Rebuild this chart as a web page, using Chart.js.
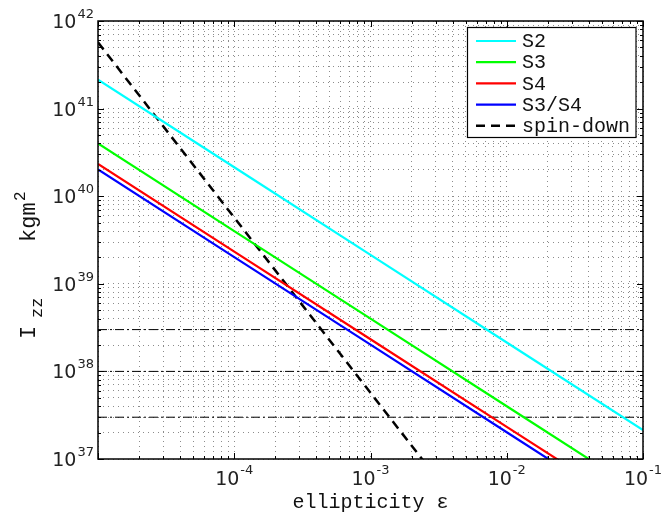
<!DOCTYPE html>
<html>
<head>
<meta charset="utf-8">
<script src="https://cdn.jsdelivr.net/npm/chart.js@4.4.1/dist/chart.umd.min.js"></script>
<style>
  html, body { margin: 0; padding: 0; background: #fff; }
  #wrap { width: 662px; height: 513px; }
</style>
</head>
<body>
<div id="wrap"><canvas id="izzChart"></canvas></div>
<script>
// ellipticity values the curves are sampled at
const epsilon = [1e-5, 1e-4, 1e-3, 1e-2, 1e-1];

// I_zz upper limits for each run
const s2Izz = [2.14e41, 2.14e40, 2.14e39, 2.14e38, 2.14e37];
const s3Izz = [4.0e40, 4.0e39, 4.0e38, 4.0e37, 4.0e36];
const s4Izz = [2.33e40, 2.33e39, 2.33e38, 2.33e37, 2.33e36];
const s3s4Izz = [2.02e40, 2.02e39, 2.02e38, 2.02e37, 2.02e36];
const spinDownIzz = [5.7e41, 5.7e39, 5.7e37, 5.7e35, 5.7e33];

// reference moments of inertia (dash-dot)
const refIzz = [3e38, 1e38, 3e37];

const xRange = [1e-5, 1e-1];
const yRange = [1e37, 1e42];
const xTickExps = [-4, -3, -2, -1];
const yTickExps = [37, 38, 39, 40, 41, 42];

const monoFont = '"Liberation Mono", "DejaVu Sans Mono", monospace';
const sansFont = '"DejaVu Sans", sans-serif';

function pairs(ys) {
    return epsilon.map((x, i) => ({ x: x, y: ys[i] }));
}

function curve(label, ys, color, dash) {
    return {
        label: label,
        data: pairs(ys),
        borderColor: color,
        backgroundColor: color,
        borderWidth: dash ? 2.5 : 2.2,
        borderDash: dash || [],
        pointRadius: 0,
        fill: false,
        tension: 0
    };
}

const datasets = [
    curve('S2', s2Izz, '#00ffff'),
    curve('S3', s3Izz, '#00ff00'),
    curve('S4', s4Izz, '#ff0000'),
    curve('S3/S4', s3s4Izz, '#0000ff'),
    curve('spin-down', spinDownIzz, '#000000', [9, 6])
];

refIzz.forEach(level => {
    datasets.push({
        label: '',
        inLegend: false,
        data: [{ x: xRange[0], y: level }, { x: xRange[1], y: level }],
        borderColor: '#000',
        borderWidth: 1,
        borderDash: [9, 3, 2, 3],
        pointRadius: 0,
        fill: false
    });
});

// 1..9 x 10^n ticks so every decade gets its minor grid
function logTicks(scale) {
    const min = scale.min, max = scale.max;
    const ticks = [];
    for (let e = Math.floor(Math.log10(min)); e <= Math.ceil(Math.log10(max)); e++) {
        for (let m = 1; m <= 9; m++) {
            const v = m * Math.pow(10, e);
            if (v >= min * 0.999999 && v <= max * 1.000001) ticks.push({ value: v, major: m === 1 });
        }
    }
    scale.ticks = ticks;
}

function isDecade(v) {
    const l = Math.log10(v);
    return Math.abs(l - Math.round(l)) < 1e-6;
}

const frame = {
    id: 'frame',
    afterDraw(chart) {
        const ctx = chart.ctx;
        const a = chart.chartArea;
        const xs = chart.scales.x, ys = chart.scales.y;
        ctx.save();

        // inward tick marks on all four sides
        ctx.strokeStyle = '#000';
        ctx.lineWidth = 1;
        ctx.beginPath();
        ys.ticks.forEach(t => {
            const py = Math.round(ys.getPixelForValue(t.value)) + 0.5;
            const len = isDecade(t.value) ? 6 : 3;
            ctx.moveTo(a.left, py); ctx.lineTo(a.left + len, py);
            ctx.moveTo(a.right, py); ctx.lineTo(a.right - len, py);
        });
        xs.ticks.forEach(t => {
            const px = Math.round(xs.getPixelForValue(t.value)) + 0.5;
            const len = isDecade(t.value) ? 6 : 3;
            ctx.moveTo(px, a.bottom); ctx.lineTo(px, a.bottom - len);
            ctx.moveTo(px, a.top); ctx.lineTo(px, a.top + len);
        });
        ctx.stroke();

        // axes box
        ctx.lineWidth = 1.5;
        ctx.strokeRect(a.left, a.top, a.right - a.left, a.bottom - a.top);

        // y tick labels 10^n
        ctx.fillStyle = '#222';
        ctx.textBaseline = 'alphabetic';
        ctx.textAlign = 'left';
        yTickExps.forEach(e => {
            const py = ys.getPixelForValue(Math.pow(10, e));
            const es = String(e);
            ctx.font = '13px ' + sansFont;
            const ew = ctx.measureText(es).width;
            const ex = a.left - 4 - ew;
            ctx.fillText(es, ex, py - 3);
            ctx.font = '19px ' + sansFont;
            const bw = ctx.measureText('10').width;
            ctx.fillText('10', ex - 1 - bw, py + 7);
        });

        // x tick labels 10^n
        xTickExps.forEach(e => {
            const px = xs.getPixelForValue(Math.pow(10, e));
            const es = String(e);
            ctx.font = '13px ' + sansFont;
            const ew = ctx.measureText(es).width;
            ctx.font = '19px ' + sansFont;
            const bw = ctx.measureText('10').width;
            const x0 = px - (bw + 1 + ew) / 2;
            ctx.fillText('10', x0, a.bottom + 26);
            ctx.font = '13px ' + sansFont;
            ctx.fillText(es, x0 + bw + 1, a.bottom + 15);
        });

        // axis titles
        ctx.fillStyle = '#111';
        ctx.font = '20px ' + monoFont;
        ctx.textAlign = 'center';
        ctx.fillText('ellipticity \u03b5', (a.left + a.right) / 2, 507.5);

        // rotated y title, pieces placed along the axis (offsets measured upward from y=340)
        ctx.save();
        ctx.translate(35, 340);
        ctx.rotate(-Math.PI / 2);
        ctx.textAlign = 'left';
        const parts = [
            { t: 'I', size: 22, at: 1, dy: 0 },
            { t: 'zz', size: 17, at: 22, dy: 7 },
            { t: 'kgm', size: 22, at: 98, dy: 0 },
            { t: '2', size: 16, at: 139, dy: -10 }
        ];
        parts.forEach(p => {
            ctx.font = p.size + 'px ' + monoFont;
            ctx.fillText(p.t, p.at, p.dy);
        });
        ctx.restore();

        // legend box
        const lx = 467.5, ly = 27.5, lw = 168.5, lh = 110;
        ctx.fillStyle = '#fff';
        ctx.fillRect(lx, ly, lw, lh);
        ctx.strokeStyle = '#000';
        ctx.lineWidth = 1.2;
        ctx.strokeRect(lx, ly, lw, lh);
        ctx.font = '20px ' + monoFont;
        ctx.textAlign = 'left';
        ctx.textBaseline = 'middle';
        let row = 0;
        chart.data.datasets.forEach(ds => {
            if (ds.inLegend === false) return;
            const ry = 41 + row * 21.2;
            ctx.save();
            ctx.strokeStyle = ds.borderColor;
            ctx.lineWidth = ds.borderWidth;
            ctx.setLineDash(ds.borderDash || []);
            ctx.beginPath();
            ctx.moveTo(476, ry);
            ctx.lineTo(516, ry);
            ctx.stroke();
            ctx.restore();
            ctx.fillStyle = '#111';
            ctx.fillText(ds.label, 522, ry + 1);
            row++;
        });
        ctx.restore();
    }
};

const gridOpts = {
    color: 'rgba(0,0,0,0.45)',
    lineWidth: 1,
    drawTicks: false
};

new Chart(document.getElementById('izzChart'), {
    type: 'line',
    data: { datasets: datasets },
    options: {
        responsive: true,
        maintainAspectRatio: false,
        animation: false,
        layout: { padding: { left: 98, top: 21, right: 19, bottom: 54 } },
        plugins: {
            legend: { display: false },
            tooltip: { enabled: false }
        },
        scales: {
            x: {
                type: 'logarithmic',
                min: xRange[0],
                max: xRange[1],
                afterBuildTicks: logTicks,
                ticks: { display: false },
                grid: gridOpts,
                border: { display: false, dash: [1, 4] }
            },
            y: {
                type: 'logarithmic',
                min: yRange[0],
                max: yRange[1],
                afterBuildTicks: logTicks,
                ticks: { display: false },
                grid: gridOpts,
                border: { display: false, dash: [1, 4] }
            }
        }
    },
    plugins: [frame]
});
</script>
</body>
</html>
